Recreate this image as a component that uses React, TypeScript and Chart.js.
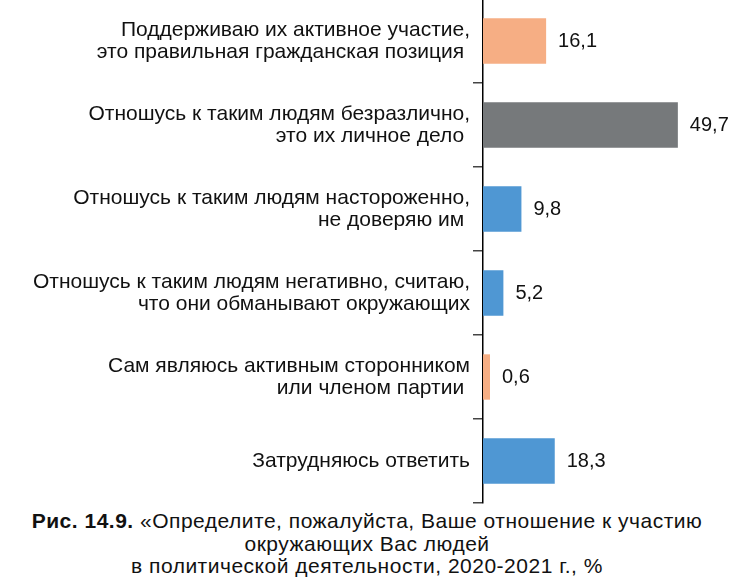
import { useEffect, useRef } from "react";
import { Chart, registerables } from "chart.js";
Chart.register(...registerables);

const categories: string[][] = [
    ["Поддерживаю их активное участие,", "это правильная гражданская позиция "],
    ["Отношусь к таким людям безразлично,", "это их личное дело "],
    ["Отношусь к таким людям настороженно,", "не доверяю им "],
    ["Отношусь к таким людям негативно, считаю,", "что они обманывают окружающих"],
    ["Сам являюсь активным сторонником", "или членом партии "],
    ["Затрудняюсь ответить"],
];
const values: number[] = [16.1, 49.7, 9.8, 5.2, 0.6, 18.3];
const barColors: string[] = ["#f6ae84", "#76797b", "#4f97d3", "#4f97d3", "#f6ae84", "#4f97d3"];

const FONT = "'Liberation Sans', Arial, sans-serif";

const valueLabels = {
    id: "valueLabels",
    afterDatasetsDraw(chart: Chart) {
        const ctx = chart.ctx;
        const meta = chart.getDatasetMeta(0);
        ctx.save();
        ctx.font = `20px ${FONT}`;
        ctx.fillStyle = "#111";
        ctx.textAlign = "left";
        ctx.textBaseline = "middle";
        meta.data.forEach((bar: any, i: number) => {
            ctx.fillText(values[i].toFixed(1).replace(".", ","), bar.x + 12, bar.y);
        });
        ctx.restore();
    },
};

const BarChart = () => {
    const chartRef = useRef<HTMLCanvasElement | null>(null);
    const chartInstance = useRef<Chart | null>(null);

    useEffect(() => {
        if (!chartRef.current) return;
        const ctx = chartRef.current.getContext("2d");
        if (!ctx) return;
        if (chartInstance.current) chartInstance.current.destroy();

        chartInstance.current = new Chart(ctx, {
            type: "bar",
            data: {
                labels: categories,
                datasets: [
                    {
                        data: values,
                        backgroundColor: barColors,
                        borderWidth: 0,
                        barPercentage: 0.54,
                        categoryPercentage: 1,
                        minBarLength: 7,
                    },
                ],
            },
            options: {
                indexAxis: "y",
                animation: false,
                responsive: false,
                layout: { padding: { top: 3, bottom: 5, left: 0, right: 4 } },
                plugins: {
                    legend: { display: false },
                    tooltip: { enabled: false },
                },
                scales: {
                    x: {
                        display: false,
                        min: 0,
                        max: 63,
                    },
                    y: {
                        afterFit: (scale: any) => {
                            scale.width = 483;
                            scale.paddingTop = 0;
                            scale.paddingBottom = 0;
                        },
                        border: { display: true, color: "#000", width: 1.5 },
                        grid: {
                            offset: true,
                            drawOnChartArea: false,
                            drawTicks: true,
                            tickLength: 10,
                            color: "#444",
                            lineWidth: 1.5,
                        },
                        ticks: {
                            padding: 3,
                            color: "#111",
                            font: { size: 21, family: FONT, lineHeight: 1.05 },
                        },
                    },
                },
            },
            plugins: [valueLabels],
        });

        return () => {
            if (chartInstance.current) {
                chartInstance.current.destroy();
                chartInstance.current = null;
            }
        };
    }, []);

    return (
        <canvas
            ref={chartRef}
            width={734}
            height={512}
            style={{ position: "absolute", left: 0, top: -4 }}
        ></canvas>
    );
};

export default function App() {
    return (
        <div style={{ position: "absolute", left: 0, top: 0, width: 734, height: 586, background: "#fff", overflow: "hidden" }}>
            <BarChart />
            <div
                style={{
                    position: "absolute",
                    left: 0,
                    top: 510,
                    width: 734,
                    textAlign: "center",
                    fontFamily: FONT,
                    fontSize: 21,
                    letterSpacing: "0.5px",
                    lineHeight: "22.5px",
                    color: "#111",
                }}
            >
                <b>Рис. 14.9.</b> «Определите, пожалуйста, Ваше отношение к участию
                <br />
                окружающих Вас людей
                <br />
                в политической деятельности, 2020-2021 г., %
            </div>
        </div>
    );
}
